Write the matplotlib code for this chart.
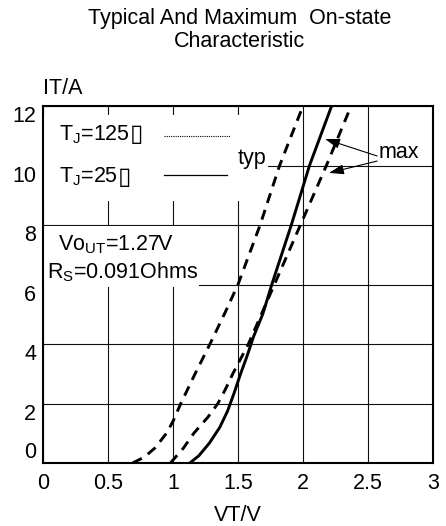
import matplotlib
matplotlib.use('Agg')
import matplotlib.pyplot as plt
from matplotlib.lines import Line2D
from matplotlib.patches import Rectangle

plt.rcParams['font.family'] = ['Liberation Sans', 'DejaVu Sans']
plt.rcParams['mathtext.fontset'] = 'custom'
plt.rcParams['mathtext.rm'] = 'Liberation Sans'

# curves: current (A) vs on-state voltage (V)
typ125_v = [0.69, 0.78, 0.86, 0.95, 1.00, 1.06, 1.17, 1.29, 1.40, 1.50, 1.67, 1.82, 2.00]
typ125_i = [0, 0.2, 0.5, 1.0, 1.4, 2.0, 3.0, 4.05, 5.05, 6, 8, 10, 12]
max_v = [0.98, 1.03, 1.08, 1.16, 1.27, 1.345, 1.40, 1.46, 1.58, 1.68, 1.78, 1.98, 2.18, 2.37]
max_i = [0, 0.25, 0.5, 1, 1.55, 2, 2.45, 3, 4, 5, 6, 8, 10, 12]
typ25_v = [1.13, 1.20, 1.28, 1.36, 1.42, 1.47, 1.52, 1.57, 1.62, 1.69, 1.76, 1.91, 2.05, 2.22]
typ25_i = [0, 0.25, 0.67, 1.2, 1.75, 2.35, 3.0, 3.6, 4.25, 5, 6, 8, 10, 12]

xticks = [0, 0.5, 1, 1.5, 2, 2.5, 3]
xticklabels = ['0', '0.5', '1', '1.5', '2', '2.5', '3']
yticks = [0, 2, 4, 6, 8, 10, 12]

FS = 15.5

fig = plt.figure(figsize=(4.46, 5.26), dpi=100)
ax = fig.add_axes([43 / 446, 1 - 463 / 526, 390 / 446, 357 / 526])

ax.set_xlim(0, 3)
ax.set_ylim(0, 12)
ax.set_axisbelow(True)
ax.grid(True, color='#111111', linewidth=0.8)
for s in ax.spines.values():
    s.set_linewidth(1.5)
ax.set_xticks(xticks)
ax.set_xticklabels(xticklabels)
ax.set_yticks(yticks)
ax.tick_params(length=0, labelsize=FS)
ax.tick_params(axis='x', pad=7)
ax.tick_params(axis='y', pad=5)
for lab in ax.get_yticklabels():
    lab.set_verticalalignment('top')
ax.get_yticklabels()[0].set_verticalalignment('bottom')

# white boxes behind the text blocks hide the grid there
ax.add_patch(Rectangle((0.01, 8.82), 1.6, 2.88, facecolor='white', edgecolor='none', zorder=1))
ax.add_patch(Rectangle((1.44, 9.9), 0.29, 0.2, facecolor='white', edgecolor='none', zorder=1))
ax.add_patch(Rectangle((0.01, 5.92), 1.19, 2.04, facecolor='white', edgecolor='none', zorder=1))

ax.plot(typ125_v, typ125_i, color='black', linewidth=2.1, dashes=(3.5, 2.5), zorder=3)
ax.plot(max_v, max_i, color='black', linewidth=2.1, dashes=(3.5, 2.5), zorder=3)
ax.plot(typ25_v, typ25_i, color='black', linewidth=2.1, zorder=3)

# legend block: label text, then the key line to its right
t1 = ax.text(0.12, 11.05, 'T$_\\mathrm{J}$=125', fontsize=FS, va='center', zorder=4)
t2 = ax.text(0.12, 9.62, 'T$_\\mathrm{J}$=25', fontsize=FS, va='center', zorder=4)
for t in (t1, t2):
    ax.annotate('\u25af', xy=(1, 0.5), xycoords=t, fontsize=FS + 2,
                family='DejaVu Sans', ha='left', va='center', zorder=4)
ax.add_line(Line2D([0.31, 0.48], [0.916, 0.916], transform=ax.transAxes,
                   color='black', linewidth=0.8, linestyle=(0, (1, 1)), zorder=4))
ax.add_line(Line2D([0.31, 0.472], [0.807, 0.807], transform=ax.transAxes,
                   color='black', linewidth=0.9, zorder=4))

ax.text(0.115, 7.33, 'Vo$_\\mathrm{UT}$=1.27V', fontsize=FS, va='center', zorder=4)
ax.text(0.03, 6.42, 'R$_\\mathrm{S}$=0.091Ohms', fontsize=FS, va='center', zorder=4)
ax.text(1.50, 10.05, 'typ', fontsize=FS, va='baseline', zorder=4)
ax.text(2.585, 10.45, 'max', fontsize=FS, va='center', zorder=4)

arrow = dict(arrowstyle='-|>,head_length=0.45,head_width=0.15', color='black',
             linewidth=0.8, mutation_scale=20, shrinkA=0, shrinkB=0)
ax.annotate('', xy=(2.17, 10.89), xytext=(2.57, 10.32), arrowprops=arrow, zorder=4)
ax.annotate('', xy=(2.20, 9.75), xytext=(2.57, 10.15), arrowprops=arrow, zorder=4)

ax.text(0, 1.05, 'IT/A', transform=ax.transAxes, fontsize=FS, ha='left', va='center')
ax.text(0.5, -0.146, 'VT/V', transform=ax.transAxes, fontsize=FS, ha='center', va='center')

fig.text(0.538, 1 - 30 / 526, 'Typical And Maximum  On-state\nCharacteristic',
         fontsize=FS, ha='center', va='center', linespacing=1.1)

fig.savefig('out.png', dpi=100)
